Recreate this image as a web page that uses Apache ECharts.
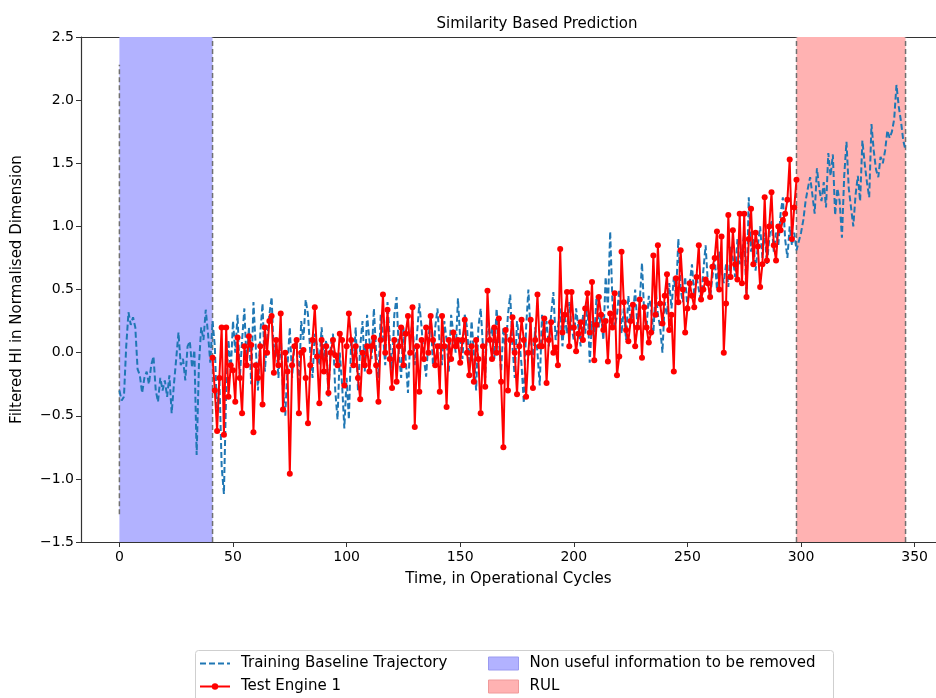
<!DOCTYPE html>
<html>
<head>
<meta charset="utf-8">
<script src="https://cdn.jsdelivr.net/npm/echarts@6/dist/echarts.min.js"></script>
<style>
  html, body { margin: 0; padding: 0; background: #fff; }
  #chart { width: 936px; height: 698px; }
</style>
</head>
<body>
<div id="chart"></div>
<script>
// x tick labels (cycles)
const xTicks = [0, 50, 100, 150, 200, 250, 300, 350];

// training baseline trajectory, one value per cycle starting at cycle 0
const baselineStart = 0;
const baseline = [
  -0.30, -0.38, -0.35, 0.05, 0.32, 0.22, 0.28, 0.20, -0.13, -0.18,
  -0.32, -0.20, -0.15, -0.25, -0.10, -0.03, -0.30, -0.39, -0.20, -0.30,
  -0.22, -0.35, -0.18, -0.48, -0.25, -0.05, 0.16, -0.10, -0.05, -0.22,
  0.05, 0.09, -0.12, 0.02, -0.81, -0.10, 0.20, 0.10, 0.34, 0.15,
  -0.08, 0.25, 0.05, -0.50, -0.20, -0.90, -1.12, -0.30, 0.10, -0.15,
  0.25, 0.00, 0.30, -0.20, 0.10, 0.35, -0.10, 0.20, -0.25, 0.40,
  0.05, -0.30, 0.15, 0.39, -0.15, 0.10, 0.30, 0.44, -0.05, 0.10,
  -0.20, 0.15, -0.30, -0.50, -0.10, 0.20, -0.20, 0.05, 0.10, -0.30,
  0.25, 0.10, 0.42, 0.30, 0.00, -0.20, 0.15, 0.05, -0.10, 0.20,
  -0.05, 0.10, -0.35, 0.05, 0.15, -0.30, -0.53, 0.00, -0.25, -0.60,
  -0.20, -0.53, 0.10, -0.10, 0.20, -0.30, 0.05, 0.25, -0.15, 0.30,
  0.10, -0.05, 0.35, 0.00, -0.20, 0.30, 0.15, -0.10, 0.40, 0.10,
  -0.15, 0.30, 0.44, 0.00, -0.20, 0.20, -0.05, -0.32, 0.10, 0.25,
  -0.10, 0.15, 0.39, 0.20, -0.05, -0.19, 0.10, 0.30, -0.10, 0.20,
  0.35, 0.05, -0.10, 0.25, 0.10, -0.15, 0.30, 0.15, 0.00, 0.43,
  0.10, -0.05, 0.30, 0.20, -0.10, 0.25, 0.00, -0.30, 0.20, 0.35,
  0.05, -0.20, 0.30, 0.10, 0.20, -0.05, 0.35, 0.10, -0.15, 0.20,
  0.00, 0.30, 0.46, 0.05, -0.20, 0.25, 0.10, -0.10, -0.40, 0.20,
  0.50, 0.15, -0.10, 0.20, 0.00, -0.26, 0.30, 0.10, 0.25, 0.05,
  0.30, 0.48, 0.10, 0.20, 0.35, 0.05, 0.30, 0.15, 0.40, 0.20,
  0.10, 0.35, 0.20, 0.05, 0.30, 0.15, 0.40, -0.08, 0.25, 0.10,
  0.45, 0.20, 0.30, 0.10, 0.60, 0.35, 0.96, 0.40, 0.20, 0.30,
  0.50, 0.15, 0.35, 0.10, 0.45, 0.25, 0.30, 0.50, 0.20, 0.40,
  0.71, 0.30, 0.20, 0.45, 0.35, 0.15, 0.50, 0.30, 0.20, 0.00,
  0.40, 0.30, 0.55, 0.35, 0.60, 0.45, 0.90, 0.50, 0.40, 0.60,
  0.35, 0.55, 0.70, 0.45, 0.60, 0.50, 0.40, 0.65, 0.85, 0.55,
  0.44, 0.60, 0.75, 0.50, 0.80, 0.65, 0.55, 0.70, 0.52, 0.85,
  0.75, 0.60, 0.90, 0.70, 0.80, 0.95, 0.44, 1.23, 0.80, 0.90,
  0.65, 0.85, 1.00, 0.75, 0.95, 0.70, 0.90, 1.05, 0.80, 0.95,
  0.85, 1.10, 1.23, 0.90, 0.75, 1.00, 0.85, 0.95, 0.81, 0.88,
  0.95, 1.05, 1.20, 1.30, 1.39, 1.25, 1.10, 1.46, 1.30, 1.20,
  1.35, 1.15, 1.58, 1.40, 1.57, 1.09, 1.30, 1.20, 0.91, 1.40,
  1.67, 1.30, 1.15, 1.00, 1.25, 1.40, 1.20, 1.68, 1.50, 1.35,
  1.23, 1.81, 1.60, 1.45, 1.39, 1.55, 1.50, 1.60, 1.76, 1.70,
  1.75, 1.85, 2.12, 1.95, 1.83, 1.68, 1.60
];

// test engine 1, one value per cycle starting at cycle 41
const testStart = 41;
const testEngine = [
  -0.04, -0.30, -0.62, -0.20, 0.20, -0.65, 0.20, -0.35, -0.10, -0.14,
  -0.39, 0.12, -0.20, -0.48, 0.05, -0.10, 0.13, 0.06, -0.63, -0.10,
  -0.20, 0.05, -0.41, 0.20, 0.00, 0.25, 0.29, -0.16, 0.10, -0.10,
  0.31, -0.45, 0.00, -0.15, -0.96, -0.10, 0.05, 0.10, -0.48, 0.00,
  0.02, -0.20, -0.56, -0.10, 0.10, 0.36, -0.03, -0.40, 0.10, -0.15,
  0.05, -0.32, 0.00, 0.10, -0.02, -0.10, 0.15, 0.10, -0.26, 0.05,
  0.31, 0.10, -0.10, 0.05, -0.20, -0.37, 0.00, -0.10, 0.05, -0.15,
  0.05, 0.12, -0.10, -0.39, 0.10, 0.46, 0.00, 0.34, -0.05, -0.28,
  0.10, -0.23, 0.05, 0.20, -0.10, 0.15, 0.29, 0.00, 0.36, -0.59,
  0.05, -0.31, 0.10, -0.05, 0.20, 0.00, 0.29, 0.10, -0.10, 0.05,
  -0.31, 0.29, 0.05, -0.43, 0.10, -0.05, 0.16, 0.05, 0.10, -0.08,
  0.10, 0.26, 0.00, -0.18, 0.05, -0.23, 0.10, -0.05, -0.48, 0.05,
  -0.27, 0.49, 0.10, -0.05, 0.20, 0.00, 0.27, -0.23, -0.75, 0.18,
  -0.30, 0.10, 0.28, 0.00, -0.33, 0.05, 0.26, 0.10, -0.35, 0.00,
  0.26, -0.28, 0.10, 0.46, 0.05, 0.05, 0.27, -0.24, 0.10, 0.24,
  0.00, 0.04, -0.10, 0.82, 0.16, 0.30, 0.48, 0.05, 0.48, 0.20,
  0.01, 0.15, 0.24, 0.10, 0.35, 0.47, 0.16, 0.56, -0.06, 0.22,
  0.44, 0.30, 0.18, 0.25, -0.07, 0.31, 0.20, 0.47, -0.18, -0.03,
  0.80, 0.40, 0.18, 0.09, 0.25, 0.38, 0.05, 0.20, 0.42, -0.04,
  0.36, 0.20, 0.08, 0.16, 0.77, 0.30, 0.85, 0.39, 0.23, 0.45,
  0.62, 0.18, 0.30, -0.15, 0.59, 0.40, 0.81, 0.50, 0.16, 0.35,
  0.55, 0.45, 0.36, 0.60, 0.85, 0.42, 0.50, 0.58, 0.55, 0.44,
  0.68, 0.75, 0.96, 0.50, 0.92, 0.00, 0.39, 1.09, 0.60, 0.97,
  0.70, 0.58, 1.10, 0.55, 1.10, 0.44, 0.90, 1.14, 0.70, 0.95,
  0.84, 0.52, 0.70, 1.23, 0.73, 1.00, 1.27, 0.85, 0.73, 1.00,
  0.97, 1.05, 1.10, 1.21, 1.53, 0.90, 1.15, 1.37
];

// shaded spans (cycles)
const nonUsefulSpan = [0, 41];
const rulSpan = [298, 346];

// dashed boundary lines: [cycle, from, to]
const edgeLines = [[0, -1.28, 2.28], [41, -1.5, 2.5], [298, -1.5, 2.5], [346, -1.5, 2.5]];

const FONT = "DejaVu Sans";
const fmtY = v => v.toFixed(1).replace("-", "\u2212");

const chart = echarts.init(document.getElementById("chart"), null, { renderer: "canvas" });

const xMin = -16.9, xMax = 359.4;

let edgeSeries = edgeLines.map(e => ({
    type: "line",
    data: [[e[0], e[1]], [e[0], e[2]]],
    symbol: "none",
    silent: true,
    z: 3,
    lineStyle: { color: "#707070", width: 1.5, type: [5, 3] }
}));

const legendText = { fontFamily: FONT, fontSize: 15, color: "#000", lineHeight: 17, padding: [0, 0, 0, 6] };

const option = {
    animation: false,
    backgroundColor: "#fff",
    textStyle: { fontFamily: FONT },
    title: {
        text: "Similarity Based Prediction",
        left: 532, top: 12, textAlign: "center",
        textStyle: { fontFamily: FONT, fontSize: 15, fontWeight: "normal", color: "#000" }
    },
    grid: { left: 81, right: 0, top: 37, bottom: 156, containLabel: false },
    legend: [
        {
            orient: "vertical", left: 199, top: 655, padding: 0, itemGap: 6, itemWidth: 30, itemHeight: 8,
            textStyle: legendText,
            data: [
                { name: "Training Baseline Trajectory", itemStyle: { opacity: 0 } },
                { name: "Test Engine 1" }
            ],
            selectedMode: false
        },
        {
            orient: "vertical", left: 488, top: 655, padding: 0, itemGap: 6, itemWidth: 30, itemHeight: 13,
            textStyle: legendText,
            data: [
                { name: "Non useful information to be removed", icon: "rect", itemStyle: { color: "#b2b2ff", borderColor: "#9a9af0", borderWidth: 1 } },
                { name: "RUL", icon: "rect", itemStyle: { color: "#ffb2b2", borderColor: "#f09a9a", borderWidth: 1 } }
            ],
            selectedMode: false
        }
    ],
    graphic: [{
        type: "rect",
        shape: { x: 195.5, y: 650.5, width: 638, height: 70, r: 3 },
        style: { fill: "none", stroke: "#cfcfcf", lineWidth: 1 },
        z: -1
    }],
    xAxis: [{
        type: "value", min: xMin, max: xMax,
        name: "Time, in Operational Cycles", nameLocation: "middle", nameGap: 30,
        nameTextStyle: { fontFamily: FONT, fontSize: 15, color: "#000" },
        axisLine: { show: true, onZero: false, lineStyle: { color: "#333", width: 1.2 } },
        axisTick: { show: true, length: 5, customValues: xTicks, lineStyle: { color: "#333" } },
        axisLabel: { customValues: xTicks, margin: 8, fontFamily: FONT, fontSize: 14, color: "#000" },
        splitLine: { show: false }
    }, {
        type: "value", position: "top", min: xMin, max: xMax,
        axisLine: { show: true, onZero: false, lineStyle: { color: "#333", width: 1.2 } },
        axisTick: { show: false }, axisLabel: { show: false }, splitLine: { show: false }
    }],
    yAxis: {
        type: "value", min: -1.5, max: 2.5, interval: 0.5,
        name: "Filtered HI in Normalised Dimension", nameLocation: "middle", nameGap: 56, nameRotate: 90,
        nameTextStyle: { fontFamily: FONT, fontSize: 15, color: "#000" },
        axisLine: { show: true, onZero: false, lineStyle: { color: "#333", width: 1.2 } },
        axisTick: { show: true, length: 5, lineStyle: { color: "#333" } },
        axisLabel: { margin: 7, fontFamily: FONT, fontSize: 14, color: "#000", formatter: fmtY },
        splitLine: { show: false }
    },
    series: [
        {
            name: "Non useful information to be removed", type: "line", data: [],
            itemStyle: { color: "#b2b2ff" }, z: 1,
            markArea: {
                silent: true, itemStyle: { color: "#b2b2ff" },
                data: [[{ xAxis: nonUsefulSpan[0] }, { xAxis: nonUsefulSpan[1] }]]
            }
        },
        {
            name: "RUL", type: "line", data: [],
            itemStyle: { color: "#ffb2b2" }, z: 1,
            markArea: {
                silent: true, itemStyle: { color: "#ffb2b2" },
                data: [[{ xAxis: rulSpan[0] }, { xAxis: rulSpan[1] }]]
            }
        },
        ...edgeSeries,
        {
            name: "Training Baseline Trajectory", type: "line",
            data: baseline.map((v, i) => [baselineStart + i, v]),
            symbol: "none", z: 4,
            itemStyle: { color: "#1f77b4" },
            lineStyle: { color: "#1f77b4", width: 2, type: [6, 3] }
        },
        {
            name: "Test Engine 1", type: "line",
            data: testEngine.map((v, i) => [testStart + i, v]),
            symbol: "circle", symbolSize: 6, z: 5,
            itemStyle: { color: "#ff0000" },
            lineStyle: { color: "#ff0000", width: 2 }
        }
    ]
};

chart.setOption(option);
</script>
</body>
</html>
